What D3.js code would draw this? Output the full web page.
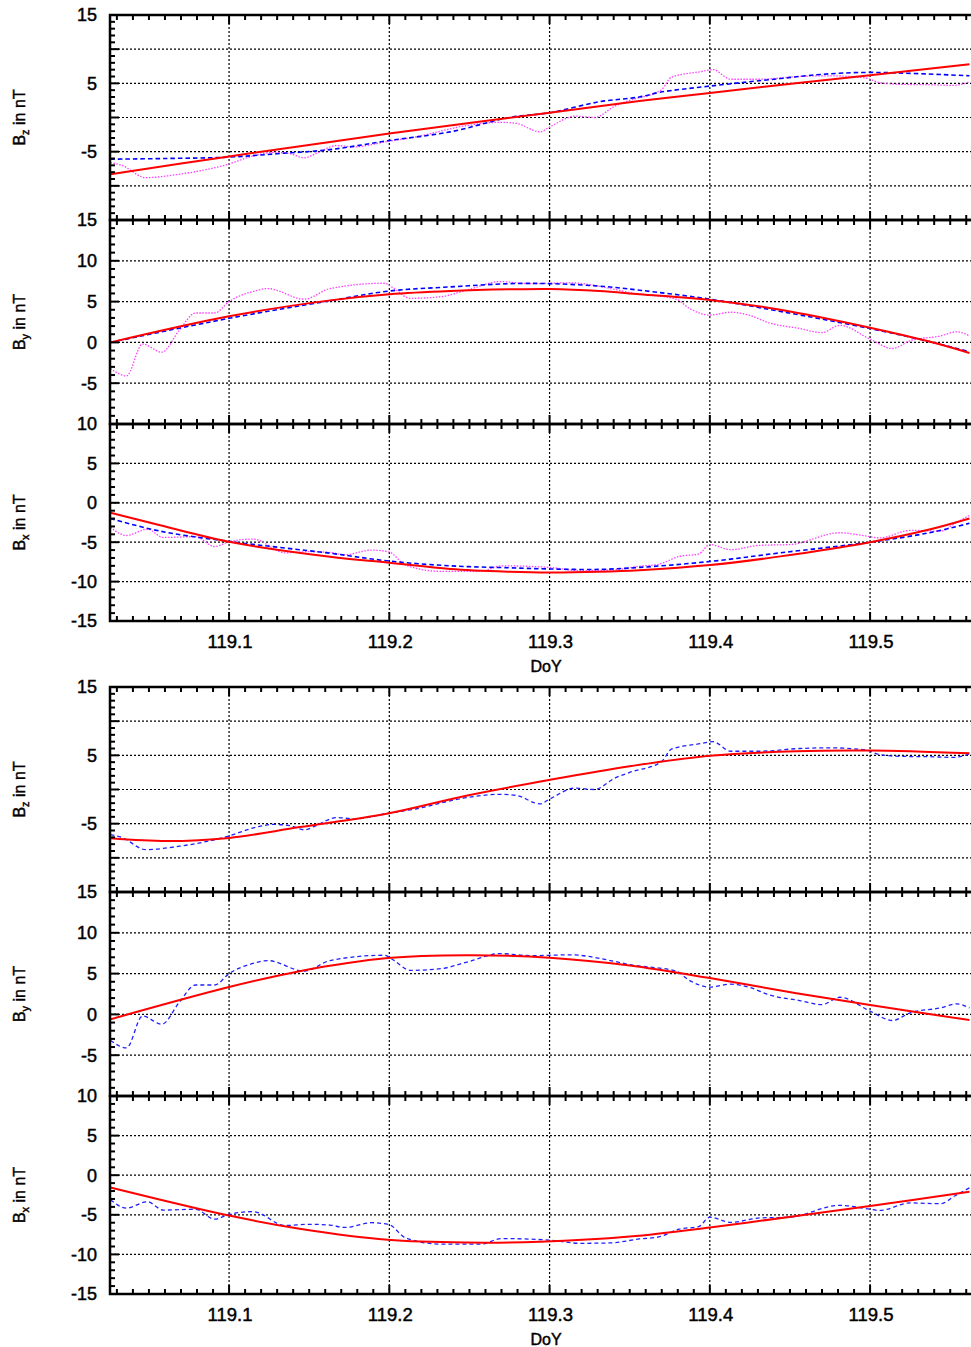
<!DOCTYPE html>
<html>
<head>
<meta charset="utf-8" />
<title>Bx By Bz fits</title>
<script src="https://cdnjs.cloudflare.com/ajax/libs/d3/7.8.5/d3.min.js"></script>
<style>
  body { margin: 0; background: #fff; }
  text { font-family: "Liberation Sans", Arial, sans-serif; fill: #000; stroke: #000; stroke-width: 0.45px; }
</style>
</head>
<body>
<svg id="chart" width="971" height="1347"></svg>
<script>
// ---- data (DoY, nT) ----
const doyTicks = [119.1, 119.2, 119.3, 119.4, 119.5]

// measured field (magenta in the top block, blue in the bottom block)
const rawBz = [[119.026,-6.6],[119.033,-7.0],[119.048,-8.8],[119.069,-8.3],[119.082,-7.8],[119.097,-7.0],
  [119.119,-5.4],[119.128,-5.1],[119.138,-5.3],[119.147,-5.9],[119.155,-5.2],[119.167,-4.1],[119.178,-4.3],
  [119.199,-3.5],[119.215,-2.9],[119.248,-1.2],[119.269,-0.7],[119.279,-0.85],[119.294,-2.1],[119.300,-1.4],
  [119.316,0.2],[119.328,0.0],[119.341,1.7],[119.350,2.5],[119.370,4.1],[119.376,5.9],[119.394,6.7],
  [119.402,7.0],[119.413,5.6],[119.431,5.6],[119.456,6.0],[119.475,6.1],[119.497,5.8],[119.506,5.1],
  [119.519,4.85],[119.537,4.8],[119.552,4.7],[119.562,5.2]]
const rawBy = [[119.026,-3.2],[119.036,-4.1],[119.046,-0.2],[119.058,-1.2],[119.069,1.5],[119.079,3.6],
  [119.091,3.6],[119.100,5.0],[119.116,6.3],[119.124,6.6],[119.147,5.3],[119.163,6.6],[119.197,7.25],
  [119.203,6.6],[119.213,5.4],[119.232,5.6],[119.250,6.5],[119.269,7.45],[119.288,7.2],[119.313,7.3],
  [119.338,6.6],[119.350,6.1],[119.379,5.3],[119.387,4.2],[119.400,3.35],[119.413,3.7],[119.425,3.3],
  [119.437,2.4],[119.456,1.7],[119.470,1.2],[119.481,2.1],[119.500,0.4],[119.514,-0.75],[119.525,0.2],
  [119.544,0.8],[119.554,1.3],[119.562,0.8]]
const rawBx = [[119.026,-3.1],[119.036,-4.15],[119.049,-3.35],[119.059,-4.4],[119.079,-4.3],[119.091,-5.55],
  [119.100,-4.95],[119.115,-4.6],[119.135,-6.35],[119.150,-6.2],[119.163,-6.3],[119.172,-6.6],[119.189,-6.0],
  [119.200,-6.25],[119.210,-7.9],[119.232,-8.7],[119.257,-8.7],[119.270,-8.0],[119.300,-8.2],[119.319,-8.6],
  [119.338,-8.55],[119.356,-8.05],[119.368,-7.8],[119.381,-6.8],[119.393,-6.5],[119.400,-5.3],[119.413,-5.95],
  [119.431,-5.4],[119.450,-5.3],[119.481,-3.8],[119.497,-4.2],[119.506,-4.45],[119.525,-3.5],[119.544,-3.6],
  [119.553,-2.6],[119.562,-1.6]]

// model curve (blue dashed, top block)
const modelBz = [[119.026,-6.1],[119.06,-6.0],[119.1,-5.8],[119.13,-5.3],[119.163,-4.7],[119.199,-3.4],
  [119.238,-2.1],[119.275,0.0],[119.3,0.7],[119.331,2.3],[119.356,3.0],[119.369,3.7],[119.4,4.6],
  [119.444,5.7],[119.469,6.3],[119.5,6.6],[119.562,6.1]]
const modelBy = [[119.026,0.0],[119.1,2.95],[119.163,5.1],[119.2,6.3],[119.238,6.8],[119.275,7.2],
  [119.3,7.2],[119.331,6.9],[119.356,6.4],[119.4,5.3],[119.444,3.8],[119.5,1.7],[119.537,0.1],[119.562,-1.15]]
const modelBx = [[119.026,-2.0],[119.057,-3.6],[119.1,-4.9],[119.163,-6.4],[119.2,-7.4],[119.238,-8.0],
  [119.275,-8.25],[119.3,-8.4],[119.331,-8.45],[119.356,-8.2],[119.4,-7.45],[119.444,-6.35],[119.5,-5.0],
  [119.537,-3.8],[119.562,-2.6]]

// fitted curve (red, top block)
const fitBzA = [[119.026,-8.3],[119.1,-5.7],[119.163,-3.6],[119.2,-2.35],[119.3,0.7],[119.356,2.4],
  [119.4,3.6],[119.5,6.2],[119.562,7.8]]
const fitByA = [[119.026,0.0],[119.1,3.2],[119.163,5.15],[119.2,5.9],[119.238,6.3],[119.275,6.5],
  [119.3,6.55],[119.331,6.3],[119.356,5.9],[119.4,5.2],[119.444,4.0],[119.5,1.8],[119.537,0.1],[119.562,-1.3]]
const fitBxA = [[119.026,-1.27],[119.057,-2.85],[119.1,-4.95],[119.163,-6.85],[119.2,-7.6],[119.238,-8.4],
  [119.275,-8.75],[119.3,-8.85],[119.331,-8.75],[119.356,-8.55],[119.4,-7.9],[119.444,-6.8],[119.5,-5.0],
  [119.537,-3.4],[119.562,-2.0]]

// fitted curve (red, bottom block)
const fitBzB = [[119.026,-7.15],[119.061,-7.55],[119.1,-7.1],[119.144,-5.5],[119.199,-3.5],[119.248,-0.9],
  [119.3,1.4],[119.35,3.4],[119.4,4.95],[119.454,5.6],[119.5,5.7],[119.562,5.3]]
const fitByB = [[119.026,-0.6],[119.1,3.35],[119.144,5.3],[119.199,6.9],[119.248,7.25],[119.3,6.95],
  [119.35,6.0],[119.4,4.45],[119.454,2.6],[119.5,1.15],[119.562,-0.7]]
const fitBxB = [[119.026,-1.55],[119.1,-5.1],[119.144,-6.75],[119.199,-8.15],[119.248,-8.5],[119.294,-8.4],
  [119.35,-7.75],[119.4,-6.6],[119.454,-5.15],[119.5,-3.9],[119.562,-2.1]]

// ---- layout ----
const svg = d3.select('#chart')
const xLeft = 110, xRight = 974
const x = d3.scaleLinear().domain([119.0257, 119.5626]).range([110, 970.4])

const panels = [
  { comp: 'z', dom: [-15, 15], labels: [15, 5, -5] },
  { comp: 'y', dom: [-10, 15], labels: [15, 10, 5, 0, -5] },
  { comp: 'x', dom: [-15, 10], labels: [10, 5, 0, -5, -10, -15] }
]

const blocks = [
  { edges: [15, 220, 424, 621],
    series: [
      [rawBz, modelBz, fitBzA],
      [rawBy, modelBy, fitByA],
      [rawBx, modelBx, fitBxA]
    ],
    styles: ['raw3', 'model', 'fit'] },
  { edges: [687, 892, 1096, 1294],
    series: [
      [rawBz, fitBzB],
      [rawBy, fitByB],
      [rawBx, fitBxB]
    ],
    styles: ['raw2', 'fit'] }
]

const lineStyle = {
  raw3:  { color: '#ff40ff', width: 1.3, dash: '1.5,1.5', curve: d3.curveMonotoneX },
  raw2:  { color: '#2020ff', width: 1.3, dash: '4,3', curve: d3.curveMonotoneX },
  model: { color: '#0000ff', width: 1.6, dash: '4.5,3', curve: d3.curveCatmullRom },
  fit:   { color: '#ff0000', width: 2, dash: null, curve: d3.curveCatmullRom }
}

const minorX = d3.range(119.03, 119.565, 0.01).map(d => +d.toFixed(2))

blocks.forEach(function(block) {
  panels.forEach(function(p, i) {
    let top = block.edges[i], bottom = block.edges[i + 1]
    let y = d3.scaleLinear().domain(p.dom).range([bottom, top])
    let g = svg.append('g')

    // grid
    let gridY = d3.range(p.dom[0] + 5, p.dom[1], 5)
    g.selectAll('.gy').data(gridY).enter().append('line')
      .attr('x1', xLeft).attr('x2', xRight)
      .attr('y1', d => y(d)).attr('y2', d => y(d))
      .attr('stroke', '#000').attr('stroke-width', 1.2).attr('stroke-dasharray', '2,2')
    g.selectAll('.gx').data(doyTicks).enter().append('line')
      .attr('x1', d => x(d)).attr('x2', d => x(d))
      .attr('y1', top).attr('y2', bottom)
      .attr('stroke', '#000').attr('stroke-width', 1.2).attr('stroke-dasharray', '2,2')

    // curves
    let clipId = 'clip' + block.edges[0] + i
    svg.append('clipPath').attr('id', clipId).append('rect')
      .attr('x', xLeft).attr('y', top).attr('width', xRight - xLeft).attr('height', bottom - top)
    block.series[i].forEach(function(s, k) {
      let st = lineStyle[block.styles[k]]
      let line = d3.line().x(d => x(d[0])).y(d => y(d[1])).curve(st.curve)
      g.append('path').datum(s)
        .attr('clip-path', 'url(#' + clipId + ')')
        .attr('d', line)
        .attr('fill', 'none')
        .attr('stroke', st.color)
        .attr('stroke-width', st.width)
        .attr('stroke-dasharray', st.dash)
    })

    // x ticks, top and bottom, pointing inwards
    minorX.forEach(function(t) {
      let major = Math.abs(t * 10 - Math.round(t * 10)) < 1e-6
      let len = major ? 9 : 5
      g.append('line').attr('x1', x(t)).attr('x2', x(t)).attr('y1', bottom).attr('y2', bottom - len)
        .attr('stroke', '#000').attr('stroke-width', 2)
      g.append('line').attr('x1', x(t)).attr('x2', x(t)).attr('y1', top).attr('y2', top + len)
        .attr('stroke', '#000').attr('stroke-width', 2)
    })

    // y ticks on the left
    d3.range(p.dom[0] + 1, p.dom[1]).forEach(function(v) {
      let len = v % 5 === 0 ? 9 : 5
      g.append('line').attr('x1', xLeft).attr('x2', xLeft + len).attr('y1', y(v)).attr('y2', y(v))
        .attr('stroke', '#000').attr('stroke-width', 2)
    })

    // frame
    g.append('rect').attr('x', xLeft).attr('y', top).attr('width', xRight - xLeft).attr('height', bottom - top)
      .attr('fill', 'none').attr('stroke', '#000').attr('stroke-width', 2.5)

    // y tick labels
    g.selectAll('.yl').data(p.labels).enter().append('text')
      .attr('x', 97).attr('y', d => y(d)).attr('dy', '0.36em')
      .attr('text-anchor', 'end').style('font-size', '18px')
      .text(d => d)

    // y axis title
    let ty = svg.append('text')
      .attr('transform', 'translate(25,' + ((top + bottom) / 2) + ') rotate(-90)')
      .attr('text-anchor', 'middle').style('font-size', '16px')
    ty.append('tspan').text('B')
    ty.append('tspan').attr('dy', 4).style('font-size', '11px').text(p.comp)
    ty.append('tspan').attr('dy', -4).text(' in nT')
  })

  // x tick labels and title under the last panel
  let base = block.edges[3]
  svg.selectAll(null).data(doyTicks).enter().append('text')
    .attr('x', d => x(d) + 1).attr('y', base + 27)
    .attr('text-anchor', 'middle').style('font-size', '18.5px')
    .text(d => d3.format('.1f')(d))
  svg.append('text').attr('x', 546).attr('y', base + 51)
    .attr('text-anchor', 'middle').style('font-size', '16px').text('DoY')
})
</script>
</body>
</html>
